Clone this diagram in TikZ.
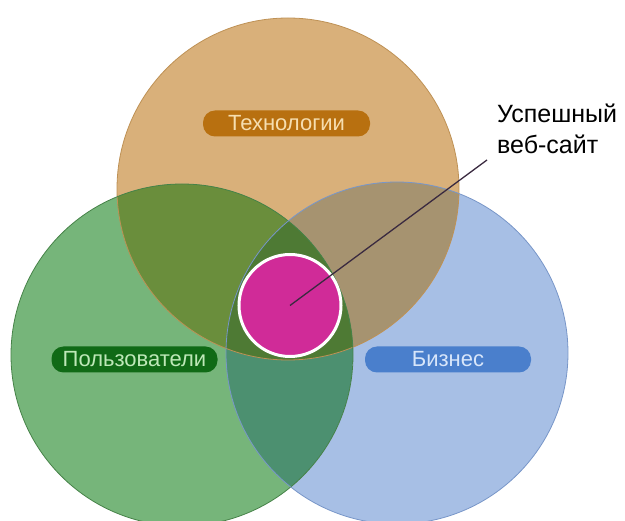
\documentclass[tikz,border=0pt]{standalone}
\usepackage{fontspec}
\setmainfont{Liberation Sans}
\definecolor{tanc}{RGB}{217,176,122}
\definecolor{greenc}{RGB}{118,181,122}
\definecolor{bluec}{RGB}{167,191,229}
\definecolor{tgc}{RGB}{106,142,60}
\definecolor{tbc}{RGB}{166,147,112}
\definecolor{gbc}{RGB}{76,144,112}
\definecolor{tgbc}{RGB}{78,122,52}
\definecolor{tanedge}{RGB}{190,145,85}
\definecolor{greenedge}{RGB}{70,130,72}
\definecolor{blueedge}{RGB}{120,150,200}
\definecolor{pilltan}{RGB}{184,112,16}
\definecolor{pilltantext}{RGB}{246,222,176}
\definecolor{pillgreen}{RGB}{16,106,22}
\definecolor{pillgreentext}{RGB}{190,232,184}
\definecolor{pillblue}{RGB}{74,127,204}
\definecolor{pillbluetext}{RGB}{216,230,250}
\definecolor{magentac}{RGB}{208,43,152}
\definecolor{leader}{RGB}{58,42,64}
\tikzset{
  venn/.style={circle, minimum size=342pt, inner sep=0pt},
  pill/.style={rounded corners=12pt, minimum height=26pt, inner sep=0pt, font=\fontsize{22}{24}\selectfont},
}
\begin{document}
\begin{tikzpicture}[x=1pt,y=-1pt]
\useasboundingbox (0,0) rectangle (625,521);
\node[venn, fill=tanc] (tech) at (288,189) {};
\node[venn, fill=greenc] (users) at (182,355) {};
\node[venn, fill=bluec] (biz) at (397,353) {};
\begin{scope}
  \clip (tech.center) circle (171pt);
  \fill[tgc] (users.center) circle (171pt);
  \fill[tbc] (biz.center) circle (171pt);
  \clip (users.center) circle (171pt);
  \fill[tgbc] (biz.center) circle (171pt);
\end{scope}
\begin{scope}
  \clip (users.center) circle (171pt);
  \clip (biz.center) circle (171pt);
  \fill[gbc] (users.center) circle (171pt);
  \clip (tech.center) circle (171pt);
  \fill[tgbc] (users.center) circle (171pt);
\end{scope}
\draw[tanedge, line width=0.8pt] (tech.center) circle (171pt);
\draw[greenedge, line width=0.8pt] (users.center) circle (171pt);
\draw[blueedge, line width=0.8pt] (biz.center) circle (171pt);
\node[pill, fill=pilltan, text=pilltantext, minimum width=167pt] (ltech) at (286.5,123.5) {Технологии};
\node[pill, fill=pillgreen, text=pillgreentext, minimum width=166pt] (lusers) at (134.5,359.5) {Пользователи};
\node[pill, fill=pillblue, text=pillbluetext, minimum width=166pt] (lbiz) at (448,359.5) {Бизнес};
\node[circle, fill=magentac, draw=white, line width=3pt, minimum size=102pt, inner sep=0pt] (site) at (290,305.5) {};
\coordinate (tip) at (487,160);
\draw[leader, line width=1.3pt] (site.center) -- (tip);
\node[anchor=north west, align=left, inner sep=0pt, font=\fontsize{25}{31}\selectfont] (label) at (497,104) {Успешный\\веб-сайт};
\end{tikzpicture}
\end{document}
